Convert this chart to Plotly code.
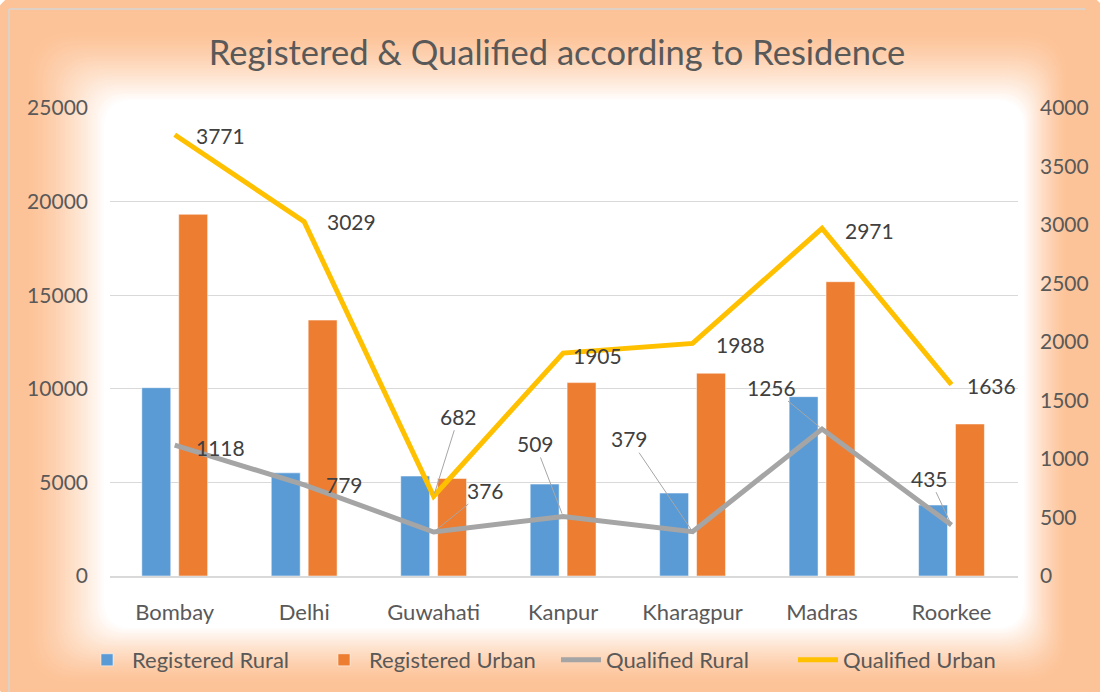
import plotly.graph_objects as go

# ---------------- data ----------------
institutes = ["Bombay", "Delhi", "Guwahati", "Kanpur", "Kharagpur", "Madras", "Roorkee"]
registered_rural = [10060, 5510, 5340, 4910, 4430, 9580, 3790]
registered_urban = [19320, 13670, 5210, 10330, 10830, 15720, 8120]
qualified_rural = [1118, 779, 376, 509, 379, 1256, 435]
qualified_urban = [3771, 3029, 682, 1905, 1988, 2971, 1636]
left_ticks = [0, 5000, 10000, 15000, 20000, 25000]
right_ticks = [0, 500, 1000, 1500, 2000, 2500, 3000, 3500, 4000]

# ---------------- style ----------------
W_FIG, H_FIG = 1100, 692
ML, MR, MT, MB = 110, 82, 108, 116
PW, PH = W_FIG - ML - MR, H_FIG - MT - MB
FONT = "Lato, 'Open Sans', sans-serif"
TXT = "#595959"
LBL = "#404040"

# label offsets (px): (dx, dy, leader)
urban_off = [(46, 1, False), (47, 0, False), (25, -80, True), (34, 2, False),
             (48, 1, False), (47, 2, False), (40, 1, False)]
rural_off = [(46, 2, False), (40, 0, False), (52, -42, True), (-28, -73, True),
             (-63, -93, True), (-51, -42, True), (-22, -47, True)]


def to_paper(px, py):
    return (px - ML) / PW, (H_FIG - MB - py) / PH


def rrect_path(x0, y0, x1, y1, r):
    def P(x, y):
        a, b = to_paper(x, y)
        return f"{a:.5f},{b:.5f}"
    return (f"M {P(x0 + r, y0)} L {P(x1 - r, y0)} Q {P(x1, y0)} {P(x1, y0 + r)} "
            f"L {P(x1, y1 - r)} Q {P(x1, y1)} {P(x1 - r, y1)} "
            f"L {P(x0 + r, y1)} Q {P(x0, y1)} {P(x0, y1 - r)} "
            f"L {P(x0, y0 + r)} Q {P(x0, y0)} {P(x0 + r, y0)} Z")


def mix(c1, c2, t):
    return "rgb({},{},{})".format(*[round(a + (b - a) * t) for a, b in zip(c1, c2)])


ORANGE = (253, 195, 152)
WHITE = (255, 255, 255)

shapes = []
shapes.append(dict(type="path", xref="paper", yref="paper", layer="below",
                   path=rrect_path(-10, -10, 1112, 706, 50),
                   fillcolor=mix(ORANGE, WHITE, 0), line=dict(width=0)))
outer = (26, 30, 1068, 684, 45)
inner = (104, 100, 1024, 628, 28)
N = 34
for i in range(1, N + 1):
    t = i / N
    box = [o + (n - o) * t for o, n in zip(outer, inner)]
    shapes.append(dict(type="path", xref="paper", yref="paper", layer="below",
                       path=rrect_path(*box),
                       fillcolor=mix(ORANGE, WHITE, t ** 1.4), line=dict(width=0)))
a0, b0 = to_paper(9, 9)
a1, _ = to_paper(1085, 9)
_, b1 = to_paper(9, 700)
shapes.append(dict(type="line", xref="paper", yref="paper", layer="below",
                   x0=a0, y0=b0, x1=a1, y1=b0, line=dict(color="#D6D6D6", width=1.5)))
shapes.append(dict(type="line", xref="paper", yref="paper", layer="below",
                   x0=a0, y0=b0, x1=a0, y1=b1, line=dict(color="#D6D6D6", width=1.5)))

fig = go.Figure()
fig.add_trace(go.Bar(name="Registered Rural", x=institutes, y=registered_rural,
                     marker=dict(color="#5B9BD5", line=dict(color="rgba(255,255,255,0.5)", width=1))))
fig.add_trace(go.Bar(name="Registered Urban", x=institutes, y=registered_urban,
                     marker=dict(color="#ED7D31", line=dict(color="rgba(255,255,255,0.5)", width=1))))
fig.add_trace(go.Scatter(name="Qualified Rural", x=institutes, y=qualified_rural, yaxis="y2",
                         mode="lines", line=dict(color="#A5A5A5", width=5)))
fig.add_trace(go.Scatter(name="Qualified Urban", x=institutes, y=qualified_urban, yaxis="y2",
                         mode="lines", line=dict(color="#FFC000", width=5)))

annotations = []
for series, offs in ((qualified_urban, urban_off), (qualified_rural, rural_off)):
    for cat, v, (dx, dy, leader) in zip(institutes, series, offs):
        base = dict(x=cat, y=v, xref="x", yref="y2", text=str(v),
                    font=dict(family=FONT, size=21, color=LBL))
        if leader:
            base.update(showarrow=True, ax=dx, ay=dy, arrowhead=0, arrowwidth=1,
                        arrowcolor="#A6A6A6", standoff=3)
        else:
            base.update(showarrow=False, xshift=dx, yshift=-dy)
        annotations.append(base)

fig.update_layout(
    width=W_FIG, height=H_FIG,
    margin=dict(l=ML, r=MR, t=MT, b=MB, autoexpand=False),
    paper_bgcolor="white", plot_bgcolor="rgba(0,0,0,0)",
    font=dict(family=FONT, color=TXT, size=21),
    title=dict(text="Registered & Qualified according to Residence",
               x=557 / W_FIG, xanchor="center", y=1 - 53 / H_FIG, yanchor="middle",
               font=dict(family=FONT, size=34.5, color=TXT)),
    barmode="group", bargap=0.43, bargroupgap=0.216,
    xaxis=dict(showgrid=False, showline=True, linecolor="#D9D9D9", linewidth=1.5,
               ticks="", tickfont=dict(size=22, color=TXT), ticklabelstandoff=16),
    yaxis=dict(range=[0, 25000], tickvals=left_ticks, ticktext=[str(v) for v in left_ticks],
               showgrid=True, gridcolor="#D9D9D9",
               gridwidth=1.3, zeroline=False, showline=False, ticks="",
               tickfont=dict(size=21, color=TXT), ticklabelstandoff=21),
    yaxis2=dict(range=[0, 4000], tickvals=right_ticks, ticktext=[str(v) for v in right_ticks],
                overlaying="y", side="right",
                showgrid=False, zeroline=False, showline=False, ticks="",
                tickfont=dict(size=21, color=TXT), ticklabelstandoff=21),
    legend=dict(orientation="h", x=(82 - ML) / PW, xanchor="left",
                y=(H_FIG - MB - 660) / PH, yanchor="middle",
                font=dict(size=22, color=TXT),
                bgcolor="rgba(0,0,0,0)", itemwidth=40, entrywidth=182),
    shapes=shapes,
    annotations=annotations,
)

fig.write_html("out.html", config={"displayModeBar": False},
               post_script="document.body.style.margin='0';document.body.style.overflow='hidden';")
